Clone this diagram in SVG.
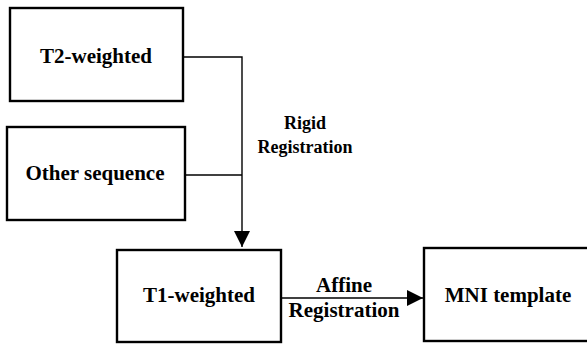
<svg xmlns="http://www.w3.org/2000/svg" width="587" height="344" viewBox="0 0 587 344">
<style>
.box{fill:#fff;stroke:#000;stroke-width:2.4}
.lbl{font-family:"Liberation Serif","Times New Roman",serif;font-weight:bold;font-size:21px;fill:#000;text-anchor:middle}
.elbl{font-family:"Liberation Serif","Times New Roman",serif;font-weight:bold;font-size:18px;fill:#000;text-anchor:middle}
.conn{fill:none;stroke:#000;stroke-width:1.4}
</style>
<defs>
<marker id="arr" markerUnits="userSpaceOnUse" markerWidth="18" markerHeight="18" refX="16" refY="8" orient="auto">
<path d="M0,0 L16,8 L0,16 Z" fill="#000"/>
</marker>
</defs>
<rect width="587" height="344" fill="#fff"/>
<g id="connectors">
<path class="conn" d="M183,57 H242 V247" marker-end="url(#arr)"/>
<path class="conn" d="M185,175 H242"/>
<path class="conn" d="M281,298 H423" marker-end="url(#arr)"/>
<text class="elbl" x="305" y="129">Rigid</text>
<text class="elbl" x="305" y="153">Registration</text>
<text class="lbl" x="344" y="292">Affine</text>
<text class="lbl" x="344" y="317">Registration</text>
</g>
<g id="t2">
<rect class="box" x="10" y="8" width="173" height="93"/>
<text class="lbl" x="96" y="63">T2-weighted</text>
</g>
<g id="other">
<rect class="box" x="7" y="127" width="178" height="93"/>
<text class="lbl" x="95" y="180">Other sequence</text>
</g>
<g id="t1">
<rect class="box" x="117" y="250" width="164" height="92"/>
<text class="lbl" x="199" y="302">T1-weighted</text>
</g>
<g id="mni">
<rect class="box" x="424" y="248" width="170" height="93"/>
<text class="lbl" x="508" y="302">MNI template</text>
</g>
</svg>
